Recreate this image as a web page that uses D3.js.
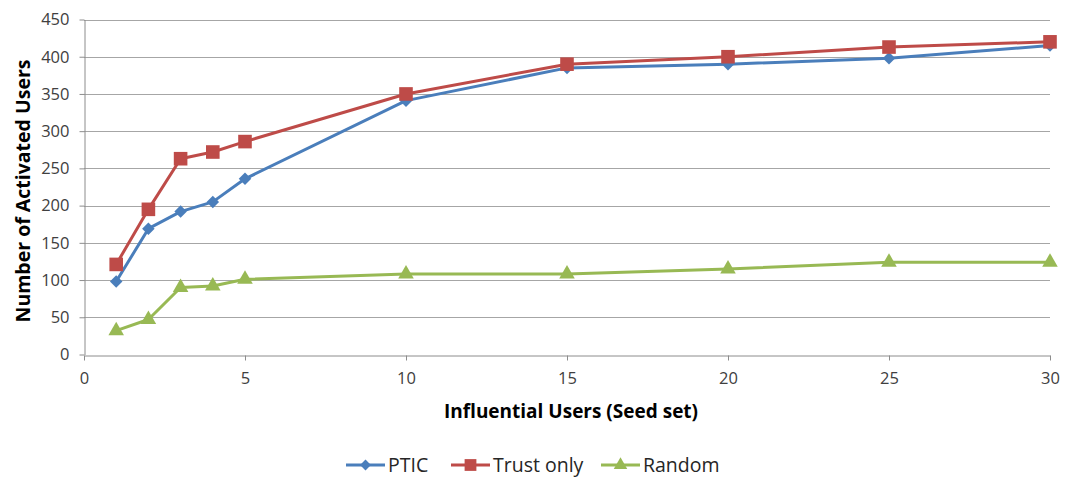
<!DOCTYPE html>
<html>
<head>
<meta charset="utf-8">
<script src="https://cdn.jsdelivr.net/npm/d3@7"></script>
<style>
  body { margin: 0; background: #fff; }
  svg text { font-family: "Open Sans", "Liberation Sans", sans-serif; }
</style>
</head>
<body>
<svg id="chart" width="1065" height="477"></svg>
<script>
// Seed set sizes and activated users per strategy
const seeds = [1, 2, 3, 4, 5, 10, 15, 20, 25, 30];
const ptic = [98, 169, 192, 205, 236, 341, 385, 390, 398, 415];
const trustOnly = [121, 195, 263, 272, 286, 350, 390, 400, 413, 420];
const random = [32, 47, 90, 92, 101, 108, 108, 115, 124, 124];
const seriesNames = ["PTIC", "Trust only", "Random"];
const xTicks = [0, 5, 10, 15, 20, 25, 30];
const yTicks = [0, 50, 100, 150, 200, 250, 300, 350, 400, 450];

const colors = ["#4a7ebb", "#be4b48", "#98b954"];
const series = [ptic, trustOnly, random];

const svg = d3.select("#chart");
const m = { left: 84, right: 15, top: 19.5, bottom: 122.5 };
const W = 1065, H = 477;

const x = d3.scaleLinear().domain([0, 30]).range([m.left, W - m.right]);
const y = d3.scaleLinear().domain([0, 450]).range([H - m.bottom, m.top]);

// Horizontal gridlines
svg.append("g")
  .selectAll("line")
  .data(yTicks.filter(d => d > 0))
  .join("line")
  .attr("x1", x(0)).attr("x2", x(30))
  .attr("y1", d => Math.round(y(d)) + 0.5).attr("y2", d => Math.round(y(d)) + 0.5)
  .attr("stroke", "#a6a6a6").attr("stroke-width", 1);

// Y axis
const yAxis = svg.append("g")
  .attr("transform", `translate(${Math.round(x(0)) + 0.5},0)`)
  .call(d3.axisLeft(y).tickValues(yTicks).tickSize(5).tickSizeOuter(0).tickPadding(10));
yAxis.select(".domain").attr("stroke", "#8c8c8c");
yAxis.selectAll(".tick line").attr("stroke", "#8c8c8c");
yAxis.selectAll("text").attr("font-size", 16.5).attr("fill", "#404040");

// X axis
const xAxis = svg.append("g")
  .attr("transform", `translate(0,${Math.round(y(0)) + 0.5})`)
  .call(d3.axisBottom(x).tickValues(xTicks).tickSize(5).tickSizeOuter(0).tickPadding(12));
xAxis.select(".domain").attr("stroke", "#8c8c8c");
xAxis.selectAll(".tick line").attr("stroke", "#8c8c8c");
xAxis.selectAll("text").attr("font-size", 16.5).attr("fill", "#404040");

// Axis titles
svg.append("text")
  .attr("x", 571).attr("y", 418)
  .attr("text-anchor", "middle")
  .attr("font-size", 19).attr("font-weight", "bold").attr("fill", "#000")
  .text("Influential Users (Seed set)");

svg.append("text")
  .attr("transform", "translate(30,191) rotate(-90)")
  .attr("text-anchor", "middle")
  .attr("font-size", 19.5).attr("font-weight", "bold").attr("fill", "#000")
  .text("Number of Activated Users");

// Marker shapes: diamond is a square turned 45 degrees
const diamond = {
  draw(ctx, size) {
    const r = Math.sqrt(size / 2);
    ctx.moveTo(0, -r); ctx.lineTo(r, 0); ctx.lineTo(0, r); ctx.lineTo(-r, 0); ctx.closePath();
  }
};
const symbols = [diamond, d3.symbolSquare, d3.symbolTriangle];
const symbolSizes = [78, 185, 105];

const line = d3.line().x(d => x(d[0])).y(d => y(d[1]));

series.forEach((vals, i) => {
  const pts = seeds.map((s, j) => [s, vals[j]]);
  svg.append("path")
    .datum(pts)
    .attr("d", line)
    .attr("fill", "none")
    .attr("stroke", colors[i])
    .attr("stroke-width", 3)
    .attr("stroke-linejoin", "round");
  svg.append("g")
    .selectAll("path")
    .data(pts)
    .join("path")
    .attr("transform", d => `translate(${x(d[0])},${y(d[1])})`)
    .attr("d", d3.symbol().type(symbols[i]).size(symbolSizes[i]))
    .attr("fill", colors[i]);
});

// Legend
const legendX = [346, 451, 601];
const legend = svg.append("g");
seriesNames.forEach((name, i) => {
  const g = legend.append("g").attr("transform", `translate(${legendX[i]},465)`);
  g.append("line").attr("x1", 0).attr("x2", 39).attr("y1", 0).attr("y2", 0)
    .attr("stroke", colors[i]).attr("stroke-width", 3);
  g.append("path").attr("transform", "translate(19.5,0)")
    .attr("d", d3.symbol().type(symbols[i]).size(symbolSizes[i] * 0.75))
    .attr("fill", colors[i]);
  g.append("text").attr("x", 42).attr("y", 7)
    .attr("font-size", 19.5).attr("fill", "#262626")
    .text(name);
});
</script>
</body>
</html>
